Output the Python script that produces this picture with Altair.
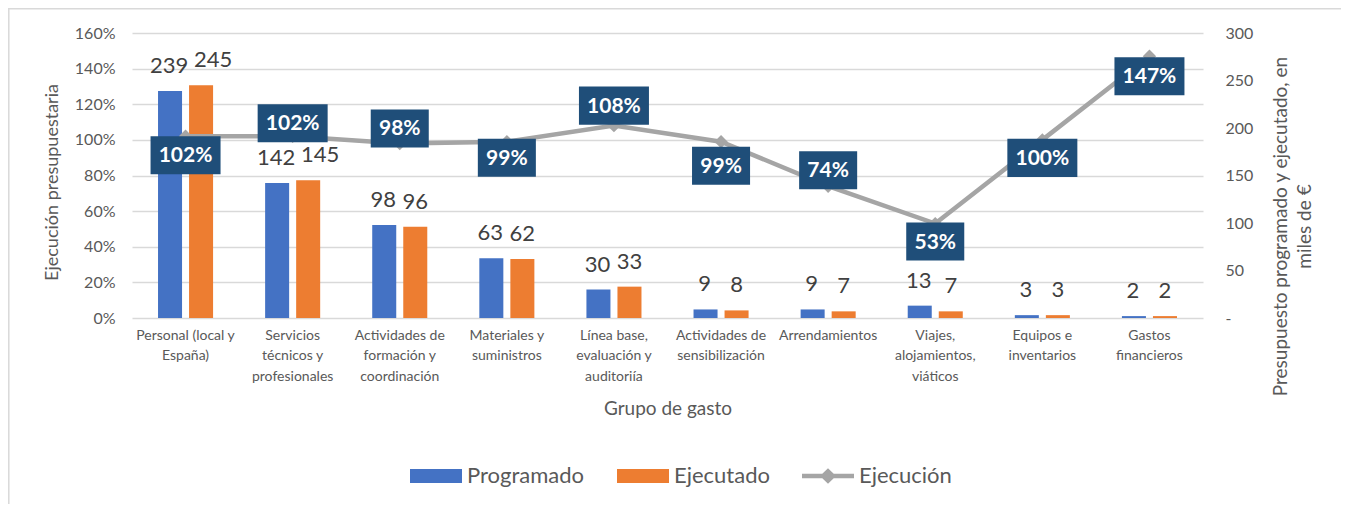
import altair as alt
import pandas as pd

FONT = "Lato"

categories = [
    "Personal (local y\nEspaña)",
    "Servicios\ntécnicos y\nprofesionales",
    "Actividades de\nformación y\ncoordinación",
    "Materiales y\nsuministros",
    "Línea base,\nevaluación y\nauditoriía",
    "Actividades de\nsensibilización",
    "Arrendamientos",
    "Viajes,\nalojamientos,\nviáticos",
    "Equipos e\ninventarios",
    "Gastos\nfinancieros",
]
programado = [239, 142, 98, 63, 30, 9, 9, 13, 3, 2]
ejecutado = [245, 145, 96, 62, 33, 8, 7, 7, 3, 2]
ejecucion_pct = [102, 102, 98, 99, 108, 99, 74, 53, 100, 147]

series_names = ["Programado", "Ejecutado", "Ejecución"]
series_colors = ["#4472C4", "#ED7D31", "#A5A5A5"]

# label box placement relative to the line point (pixels, + = below)
label_shift_px = [19, -13, -15, 16, -20, 24, -16, 18, 18, 20]

W, H = 1071, 285
PCT_MAX = 1.6

bar_df = pd.DataFrame({
    "cat": categories * 2,
    "series": ["Programado"] * len(categories) + ["Ejecutado"] * len(categories),
    "value": programado + ejecutado,
})

line_df = pd.DataFrame({
    "cat": categories,
    "pct": [p / 100 for p in ejecucion_pct],
    "label": [f"{p}%" for p in ejecucion_pct],
})
line_df["label_pos"] = [p / 100 - s * PCT_MAX / H for p, s in zip(ejecucion_pct, label_shift_px)]
line_df["boxkind"] = ["long" if len(t) > 3 else "short" for t in line_df["label"]]

x_scale = alt.Scale(paddingInner=0.486, paddingOuter=0.243)
x_axis = alt.Axis(
    labelExpr="split(datum.label, '\\n')", labelAngle=0, labelFont=FONT,
    labelFontSize=14, labelColor="#595959", labelLineHeight=20.5, labelPadding=10,
    labelBaseline="top", labelLimit=300, domain=False, ticks=False, grid=False,
    titleFont=FONT, titleFontSize=19, titleColor="#595959", titleFontWeight="normal",
    titleBaseline="middle", titleY=90,
)


def xenc():
    return alt.X("cat:N", sort=categories, title="Grupo de gasto", scale=x_scale, axis=x_axis)


xoff = alt.XOffset("series:N", sort=["Programado", "Ejecutado"], scale=alt.Scale(paddingInner=0.226, paddingOuter=0))

bar_axis = alt.Axis(
    orient="right", values=[0, 50, 100, 150, 200, 250, 300],
    labelExpr="datum.value == 0 ? '-' : datum.label",
    labelAlign="left", labelPadding=22, labelFont=FONT, labelFontSize=16,
    labelColor="#595959", domain=False, ticks=False, grid=False,
    titleFont=FONT, titleFontSize=19, titleColor="#595959", titleFontWeight="normal",
    titleAngle=270, titleAlign="center", titleBaseline="top",
    titleX=68, titleY=193, titleLineHeight=24,
)
bar_title = ["Presupuesto programado y ejecutado, en", "miles de €"]


def ybar():
    return alt.Y("value:Q", scale=alt.Scale(domain=[0, 300]), title=bar_title, axis=bar_axis)


pct_axis = alt.Axis(
    orient="left", values=[0, 0.2, 0.4, 0.6, 0.8, 1.0, 1.2, 1.4, 1.6], format=".0%",
    labelFont=FONT, labelFontSize=16, labelColor="#595959", labelPadding=17,
    domain=False, ticks=False, grid=True, gridColor="#D9D9D9", gridWidth=1.5,
    titleFont=FONT, titleFontSize=18, titleColor="#595959", titleFontWeight="normal",
    titleAngle=270, titleAlign="center", titleBaseline="top", titleX=-89, titleY=149,
)


def ypct(field):
    return alt.Y(f"{field}:Q", scale=alt.Scale(domain=[0, PCT_MAX]), title="Ejecución presupuestaria", axis=pct_axis)


bars = alt.Chart(bar_df).mark_bar().encode(
    x=xenc(),
    xOffset=xoff,
    y=ybar(),
    color=alt.Color("series:N", scale=alt.Scale(domain=series_names, range=series_colors), legend=None),
)


def bar_labels(filter_expr, dx):
    return alt.Chart(bar_df).transform_filter(filter_expr).mark_text(
        dy=-13, dx=dx, fontSize=22, color="#404040", font=FONT, baseline="bottom"
    ).encode(
        x=xenc(),
        xOffset=xoff,
        y=ybar(),
        text=alt.Text("value:Q", format="d"),
    )


bar_text_p = bar_labels("datum.series == 'Programado'", -1)
bar_text_e1 = bar_labels("datum.series == 'Ejecutado' && datum.value < 100", 0)
bar_text_e2 = bar_labels("datum.series == 'Ejecutado' && datum.value >= 100", 12)

bar_layer = alt.layer(bars, bar_text_p, bar_text_e1, bar_text_e2)

line = alt.Chart(line_df).mark_line(color="#A5A5A5", strokeWidth=4.5).encode(x=xenc(), y=ypct("pct"))
pts = alt.Chart(line_df).mark_point(shape="diamond", filled=True, size=180, color="#A5A5A5", opacity=1).encode(
    x=xenc(), y=ypct("pct")
)

path_long = "M-1,-0.543H1V0.543H-1Z"
path_short = "M-0.829,-0.543H0.829V0.543H-0.829Z"
boxes = alt.Chart(line_df).mark_point(filled=True, opacity=1, color="#1F4E79", strokeWidth=0, size=4900).encode(
    x=xenc(),
    y=ypct("label_pos"),
    shape=alt.Shape("boxkind:N", scale=alt.Scale(domain=["long", "short"], range=[path_long, path_short]), legend=None),
)
box_text = alt.Chart(line_df).mark_text(color="white", fontWeight="bold", fontSize=21, font=FONT, baseline="middle", dy=1).encode(
    x=xenc(),
    y=ypct("label_pos"),
    text="label:N",
)

line_layer = alt.layer(line, pts, boxes, box_text)

rect_path = "M-1,-0.27H1V0.27H-1Z"
line_path = "M-1,-0.085H-0.22L0,-0.3L0.22,-0.085H1V0.085H0.22L0,0.3L-0.22,0.085H-1Z"
legend_df = pd.DataFrame({"series": series_names})
leg_common = dict(
    title=None, orient="none", legendX=278, legendY=417, direction="horizontal",
    symbolOpacity=1, symbolSize=2704, symbolStrokeWidth=0, labelFont=FONT,
    labelFontSize=22, labelColor="#595959", columnPadding=32, labelOffset=5,
)
legend_layer = alt.Chart(legend_df).mark_point(filled=True, opacity=0).encode(
    fill=alt.Fill("series:N", sort=series_names, scale=alt.Scale(domain=series_names, range=series_colors),
                  legend=alt.Legend(**leg_common)),
    shape=alt.Shape("series:N", sort=series_names, scale=alt.Scale(domain=series_names, range=[rect_path, rect_path, line_path]),
                    legend=alt.Legend(**leg_common)),
)

# light chart frame (left and top edges, as in the reference)
frame_df = pd.DataFrame({"k": [0]})
frame_left = alt.Chart(frame_df).mark_rule(color="#D9D9D9", strokeWidth=1.5).encode(
    x=alt.value(-123.2), y=alt.value(-24.2), y2=alt.value(H + 186)
)
frame_top = alt.Chart(frame_df).mark_rule(color="#D9D9D9", strokeWidth=1.5).encode(
    x=alt.value(-124), x2=alt.value(W + 138), y=alt.value(-24.2)
)

chart = alt.layer(bar_layer, line_layer, legend_layer, frame_left, frame_top).resolve_scale(
    y="independent", fill="independent", shape="independent"
).properties(
    width=W, height=H,
    autosize=alt.AutoSizeParams(type="none"),
    padding={"left": 124, "top": 25, "right": 138, "bottom": 186},
).configure_view(stroke=None)

chart.save("out.html", embed_options={"renderer": "svg", "actions": False})
